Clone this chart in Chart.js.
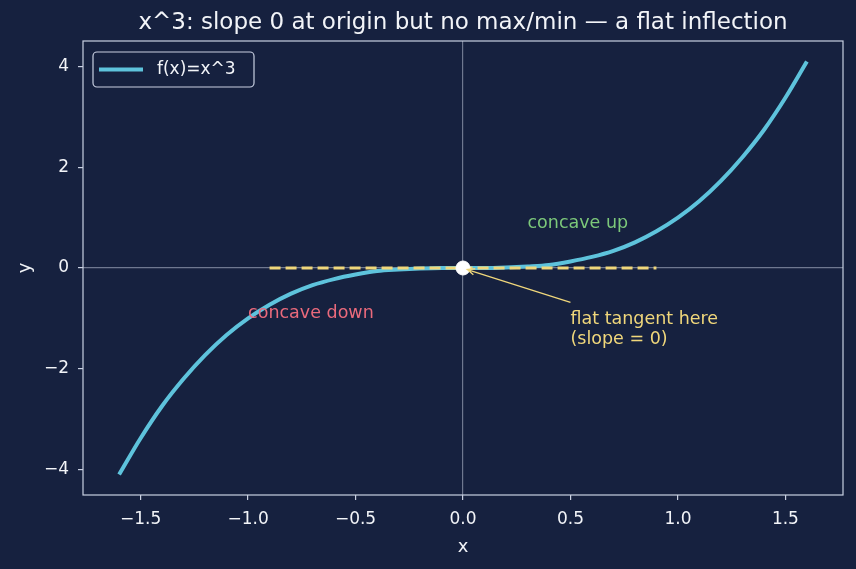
<!DOCTYPE html>
<html>
<head>
<meta charset="utf-8">
<script src="https://cdn.jsdelivr.net/npm/chart.js@4/dist/chart.umd.min.js"></script>
<style>
  html, body { margin: 0; padding: 0; background: #16213f; }
  #wrap { width: 856px; height: 569px; }
</style>
</head>
<body>
<div id="wrap"><canvas id="chart" width="856" height="569"></canvas></div>
<script>
// curve samples
const curveX = [-1.6, -1.5, -1.4, -1.3, -1.2, -1.1, -1.0, -0.9, -0.8, -0.7, -0.6, -0.5, -0.4, -0.3, -0.2, -0.1, 0,
  0.1, 0.2, 0.3, 0.4, 0.5, 0.6, 0.7, 0.8, 0.9, 1.0, 1.1, 1.2, 1.3, 1.4, 1.5, 1.6];
const curveY = [-4.1, -3.38, -2.74, -2.2, -1.73, -1.33, -1.0, -0.73, -0.51, -0.34, -0.22, -0.13, -0.06, -0.03, -0.01, 0, 0,
  0, 0.01, 0.03, 0.06, 0.13, 0.22, 0.34, 0.51, 0.73, 1.0, 1.33, 1.73, 2.2, 2.74, 3.38, 4.1];
const tangentX = [-0.9, 0.9];
const tangentY = [0, 0];
const originPt = [0, 0];

const xTicks = [-1.5, -1.0, -0.5, 0.0, 0.5, 1.0, 1.5];
const yTicks = [-4, -2, 0, 2, 4];
const xRange = [-1.768, 1.768];
const yRange = [-4.506, 4.506];

// annotation texts: [x, y, text, colour]
const notes = [
  [0.3, 0.88, 'concave up', '#7cc87a'],
  [-1.0, -0.9, 'concave down', '#ea6a7c'],
  [0.5, -1.02, 'flat tangent here', '#f0d77b'],
  [0.5, -1.42, '(slope = 0)', '#f0d77b']
];
const arrowFrom = [0.5, -0.68];
const arrowTo = [0.02, -0.03];

const FONT = "'DejaVu Sans', sans-serif";
const TXT = '#f2f4f8';
const SPINE = '#c9d0e2';

const curveData = curveX.map((x, i) => ({ x: x, y: curveY[i] }));
const tangentData = tangentX.map((x, i) => ({ x: x, y: tangentY[i] }));

const extras = {
  id: 'extras',
  beforeDraw(chart) {
    const c = chart.ctx;
    c.save();
    c.fillStyle = '#16213f';
    c.fillRect(0, 0, chart.width, chart.height);
    c.restore();
  },
  afterDatasetsDraw(chart) {
    const c = chart.ctx;
    const a = chart.chartArea;
    const xs = chart.scales.x, ys = chart.scales.y;
    c.save();
    // frame
    c.strokeStyle = SPINE;
    c.lineWidth = 1.2;
    c.strokeRect(a.left, a.top, a.right - a.left, a.bottom - a.top);

    // title
    c.fillStyle = TXT;
    c.font = '23px ' + FONT;
    c.textAlign = 'center';
    c.textBaseline = 'middle';
    c.fillText('x^3: slope 0 at origin but no max/min \u2014 a flat inflection', (a.left + a.right) / 2, 23);

    // notes
    c.font = '17.5px ' + FONT;
    c.textAlign = 'left';
    notes.forEach(n => {
      c.fillStyle = n[3];
      c.fillText(n[2], xs.getPixelForValue(n[0]), ys.getPixelForValue(n[1]));
    });

    // arrow
    const x1 = xs.getPixelForValue(arrowFrom[0]), y1 = ys.getPixelForValue(arrowFrom[1]);
    const x2 = xs.getPixelForValue(arrowTo[0]), y2 = ys.getPixelForValue(arrowTo[1]);
    c.strokeStyle = '#f0d77b';
    c.lineWidth = 1.3;
    c.beginPath();
    c.moveTo(x1, y1);
    c.lineTo(x2, y2);
    const ang = Math.atan2(y2 - y1, x2 - x1);
    c.moveTo(x2 - 8 * Math.cos(ang - 0.4), y2 - 8 * Math.sin(ang - 0.4));
    c.lineTo(x2, y2);
    c.lineTo(x2 - 8 * Math.cos(ang + 0.4), y2 - 8 * Math.sin(ang + 0.4));
    c.stroke();

    // legend
    const lx = a.left + 10, ly = a.top + 11;
    c.fillStyle = '#16213f';
    c.strokeStyle = SPINE;
    c.lineWidth = 1.2;
    c.beginPath();
    c.roundRect(lx, ly, 161, 35, 4);
    c.fill();
    c.stroke();
    c.strokeStyle = '#5ec3dc';
    c.lineWidth = 4;
    c.beginPath();
    c.moveTo(lx + 6, ly + 17.5);
    c.lineTo(lx + 50, ly + 17.5);
    c.stroke();
    c.fillStyle = TXT;
    c.font = '17px ' + FONT;
    c.fillText(chart.data.datasets[0].label, lx + 64, ly + 17.5);
    c.restore();
  }
};

const zeroGrid = ctx => (ctx.tick && ctx.tick.value === 0) ? 'rgba(200,208,226,0.5)' : 'rgba(0,0,0,0)';

new Chart(document.getElementById('chart'), {
  type: 'scatter',
  data: {
    datasets: [
      {
        label: 'f(x)=x^3',
        data: curveData,
        showLine: true,
        borderColor: '#5ec3dc',
        borderWidth: 4,
        pointRadius: 0,
        cubicInterpolationMode: 'monotone',
        order: 3
      },
      {
        label: 'tangent',
        data: tangentData,
        showLine: true,
        borderColor: '#f0d77b',
        borderWidth: 3.2,
        borderDash: [11, 5],
        pointRadius: 0,
        order: 2
      },
      {
        label: 'origin',
        data: [{ x: originPt[0], y: originPt[1] }],
        pointRadius: 7,
        pointBackgroundColor: '#ffffff',
        pointBorderColor: '#ffffff',
        order: 1
      }
    ]
  },
  options: {
    responsive: false,
    animation: false,
    layout: { padding: { top: 41, right: 13, left: 0, bottom: 0 } },
    plugins: {
      legend: { display: false },
      title: { display: false },
      tooltip: { enabled: false }
    },
    scales: {
      x: {
        type: 'linear',
        min: xRange[0],
        max: xRange[1],
        afterBuildTicks: s => { s.ticks = xTicks.map(v => ({ value: v })); },
        afterFit: s => { s.height = 74; },
        grid: { color: zeroGrid, tickColor: SPINE, tickLength: 5, lineWidth: 1.2 },
        border: { display: false },
        ticks: {
          color: TXT,
          font: { family: FONT, size: 17 },
          padding: 9,
          maxRotation: 0,
          callback: v => (v < 0 ? '\u2212' : '') + Math.abs(v).toFixed(1)
        },
        title: { display: true, text: 'x', color: TXT, font: { family: FONT, size: 18 }, padding: { top: 4, bottom: 11 } }
      },
      y: {
        type: 'linear',
        min: yRange[0],
        max: yRange[1],
        afterBuildTicks: s => { s.ticks = yTicks.map(v => ({ value: v })); },
        afterFit: s => { s.width = 83; },
        grid: { color: zeroGrid, tickColor: SPINE, tickLength: 5, lineWidth: 1.2 },
        border: { display: false },
        ticks: {
          color: TXT,
          font: { family: FONT, size: 17 },
          padding: 9,
          callback: v => (v < 0 ? '\u2212' : '') + Math.abs(v)
        },
        title: { display: true, text: 'y', color: TXT, font: { family: FONT, size: 18 }, padding: { top: 15, bottom: 8 } }
      }
    }
  },
  plugins: [extras]
});
</script>
</body>
</html>
